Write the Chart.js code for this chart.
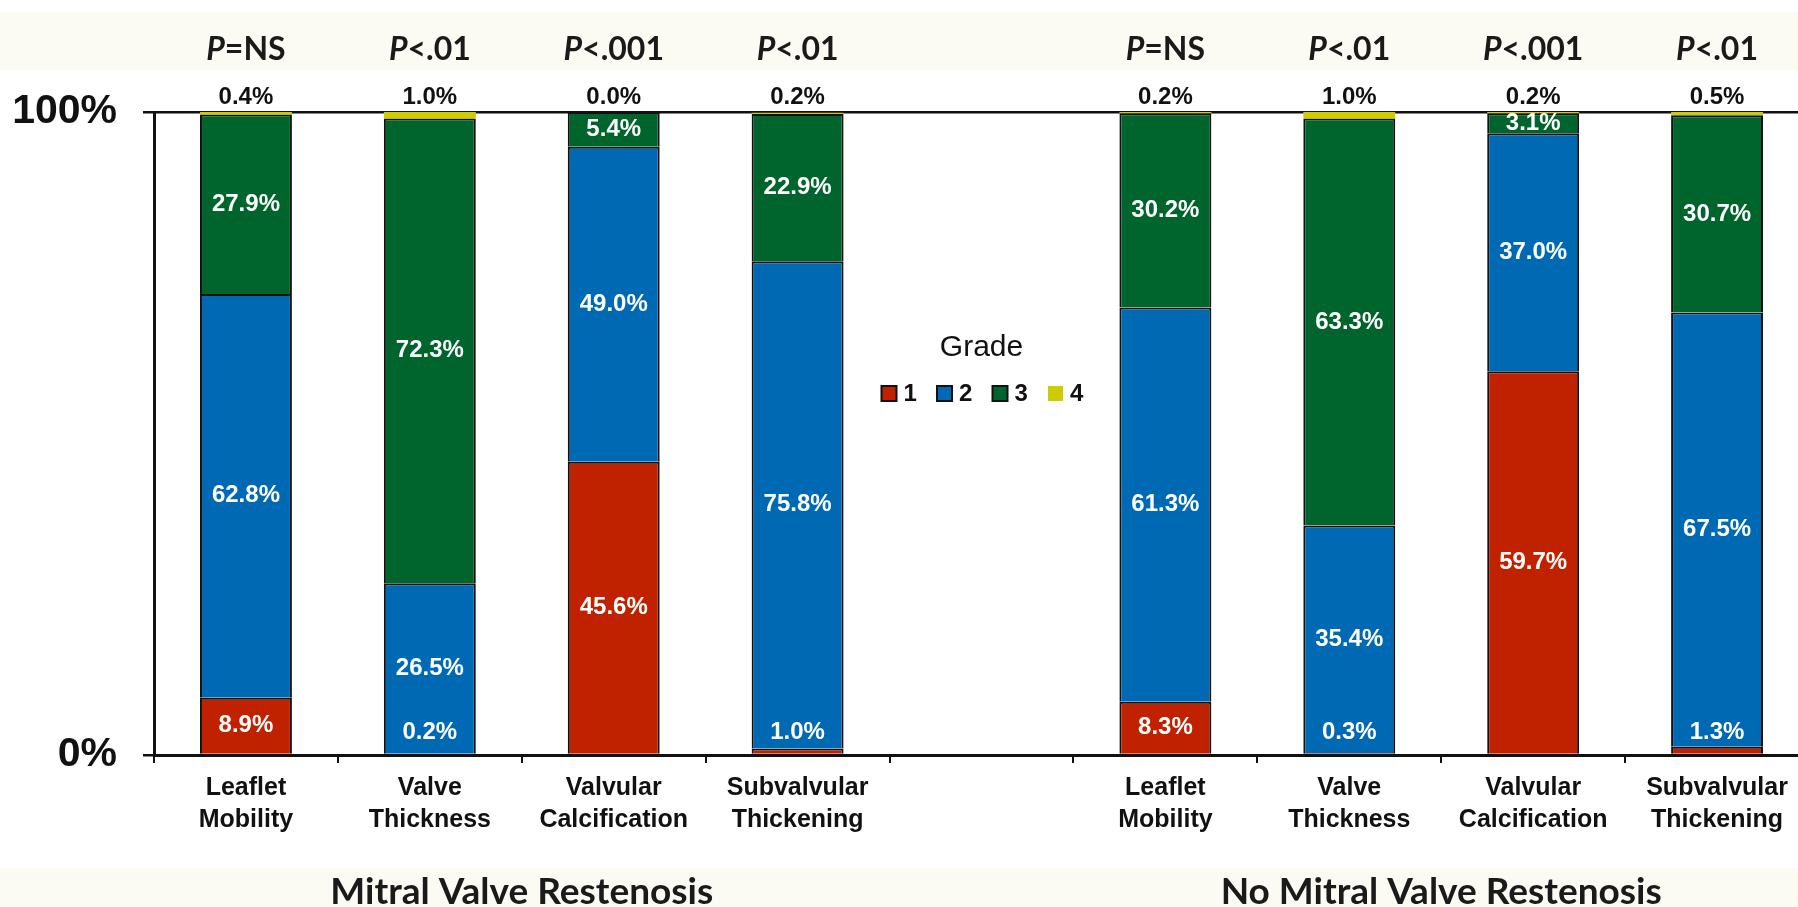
<!DOCTYPE html>
<html>
<head>
<meta charset="utf-8">
<script src="https://cdn.jsdelivr.net/npm/chart.js@4.4.0/dist/chart.umd.min.js"></script>
<style>
html,body{margin:0;padding:0;overflow:hidden;background:#fff;}
#valveChart{display:block;}
</style>
</head>
<body>
<canvas id="valveChart" width="1830" height="907"></canvas>
<script>
// categories (gap in the middle between the two groups)
let categories = [
	["Leaflet","Mobility"],["Valve","Thickness"],["Valvular","Calcification"],["Subvalvular","Thickening"],
	"",
	["Leaflet","Mobility"],["Valve","Thickness"],["Valvular","Calcification"],["Subvalvular","Thickening"]
];
let pValues = ["=NS","<.01","<.001","<.01","","=NS","<.01","<.001","<.01"];
let groupTitles = ["Mitral Valve Restenosis","No Mitral Valve Restenosis"];
let groupRanges = [[0,3],[5,8]];
let gradeLabels = ["1","2","3","4"];

// percent per grade
let grade1 = [8.9, 0.2, 45.6, 1.0, null, 8.3, 0.3, 59.7, 1.3];
let grade2 = [62.8, 26.5, 49.0, 75.8, null, 61.3, 35.4, 37.0, 67.5];
let grade3 = [27.9, 72.3, 5.4, 22.9, null, 30.2, 63.3, 3.1, 30.7];
let grade4 = [0.4, 1.0, 0.0, 0.2, null, 0.2, 1.0, 0.2, 0.5];
let yTicks = [0, 100];

let colors = ["#c02200","#0069b4","#00642d","#cccc00"];
let axisFont = "'Liberation Sans', Arial, sans-serif";
let titleFont = "Lato, 'Open Sans', sans-serif";

let overlay = {
	id: "overlay",
	beforeDraw: function(chart){
		let ctx = chart.ctx;
		ctx.save();
		ctx.fillStyle = "#fbfbf3";
		ctx.fillRect(0, 12, chart.width, 58);
		ctx.fillRect(0, 868, chart.width, chart.height - 868);
		ctx.restore();
	},
	afterDatasetsDraw: function(chart){
		let ctx = chart.ctx;
		let area = chart.chartArea;
		ctx.save();
		ctx.font = "bold 24px " + axisFont;
		ctx.textAlign = "center";
		ctx.textBaseline = "middle";
		chart.data.datasets.forEach(function(ds, di){
			let meta = chart.getDatasetMeta(di);
			meta.data.forEach(function(bar, i){
				let v = ds.data[i];
				if(v === null || v === undefined) return;
				let text = v.toFixed(1) + "%";
				let y;
				if(di == 3){
					ctx.fillStyle = "#111";
					y = area.top - 15;
				}else{
					ctx.fillStyle = "#fff";
					if(di == 0 && v < 2) y = bar.base - 21;
					else y = (bar.y + bar.base) / 2;
				}
				ctx.fillText(text, bar.x, y);
			});
		});
		ctx.restore();
	},
	afterDraw: function(chart){
		let ctx = chart.ctx;
		let xs = chart.scales.x;
		ctx.save();
		ctx.fillStyle = "#1a1a1a";
		ctx.textBaseline = "middle";
		// P values
		pValues.forEach(function(p, i){
			if(!p) return;
			let cx = xs.getPixelForValue(i);
			ctx.font = "italic bold 32px " + titleFont;
			let w1 = ctx.measureText("P").width;
			ctx.font = "bold 32px " + titleFont;
			let w2 = ctx.measureText(p).width;
			let x0 = cx - (w1 + w2) / 2;
			ctx.textAlign = "left";
			ctx.font = "italic bold 32px " + titleFont;
			ctx.fillText("P", x0, 50);
			ctx.font = "bold 32px " + titleFont;
			ctx.fillText(p, x0 + w1, 50);
		});
		// group titles
		ctx.textAlign = "center";
		ctx.font = "bold 37px " + titleFont;
		groupTitles.forEach(function(t, g){
			let cx = (xs.getPixelForValue(groupRanges[g][0]) + xs.getPixelForValue(groupRanges[g][1])) / 2;
			ctx.fillText(t, cx, 892);
		});
		// legend
		let lx = xs.getPixelForValue(4);
		ctx.fillStyle = "#111";
		ctx.font = "30px " + axisFont;
		ctx.fillText("Grade", lx, 348);
		let start = lx - 100;
		ctx.font = "bold 24px " + axisFont;
		ctx.textAlign = "left";
		chart.data.datasets.forEach(function(ds, di){
			let bx = start + di * 55.5;
			ctx.fillStyle = ds.backgroundColor;
			ctx.fillRect(bx, 386, 15, 15);
			if(ds.borderWidth){
				ctx.strokeStyle = "#111";
				ctx.lineWidth = 2;
				ctx.strokeRect(bx, 386, 15, 15);
			}
			ctx.fillStyle = "#111";
			ctx.fillText(ds.label, bx + 22, 394);
		});
		ctx.restore();
	}
};

let renderStackedChart = function(component){
	let ctx = document.querySelector(component).getContext("2d");
	let series = [grade1, grade2, grade3, grade4];
	let datasets = series.map(function(d, i){
		return {
			label: gradeLabels[i],
			data: d,
			backgroundColor: colors[i],
			borderColor: "#111",
			borderWidth: i == 3 ? 0 : 2,
			barPercentage: 0.5,
			categoryPercentage: 1
		};
	});
	return new Chart(ctx, {
		type: "bar",
		data: { labels: categories, datasets: datasets },
		options: {
			responsive: false,
			animation: false,
			devicePixelRatio: 1,
			layout: { padding: { top: 112, right: 21, left: 0, bottom: 0 } },
			plugins: { legend: { display: false }, tooltip: { enabled: false } },
			scales: {
				x: {
					stacked: true,
					afterFit: function(s){ s.height = 152; },
					border: { color: "#111", width: 3 },
					grid: { drawOnChartArea: false, color: "#111", lineWidth: 2, tickLength: 8 },
					ticks: { color: "#111", padding: 9, maxRotation: 0, autoSkip: false,
						font: { family: axisFont, size: 25, weight: "bold", lineHeight: 1.28 } }
				},
				y: {
					stacked: true,
					min: 0, max: 100,
					afterFit: function(s){ s.width = 154; },
					afterBuildTicks: function(s){ s.ticks = yTicks.map(function(v){ return {value: v}; }); },
					border: { color: "#111", width: 3 },
					grid: { color: "#111", lineWidth: 2.5, tickLength: 11 },
					ticks: { color: "#111", padding: 26,
						font: { family: axisFont, size: 41, weight: "bold" },
						callback: function(v){ return v + "%"; } }
				}
			}
		},
		plugins: [overlay]
	});
}

renderStackedChart("#valveChart");
</script>
</body>
</html>
